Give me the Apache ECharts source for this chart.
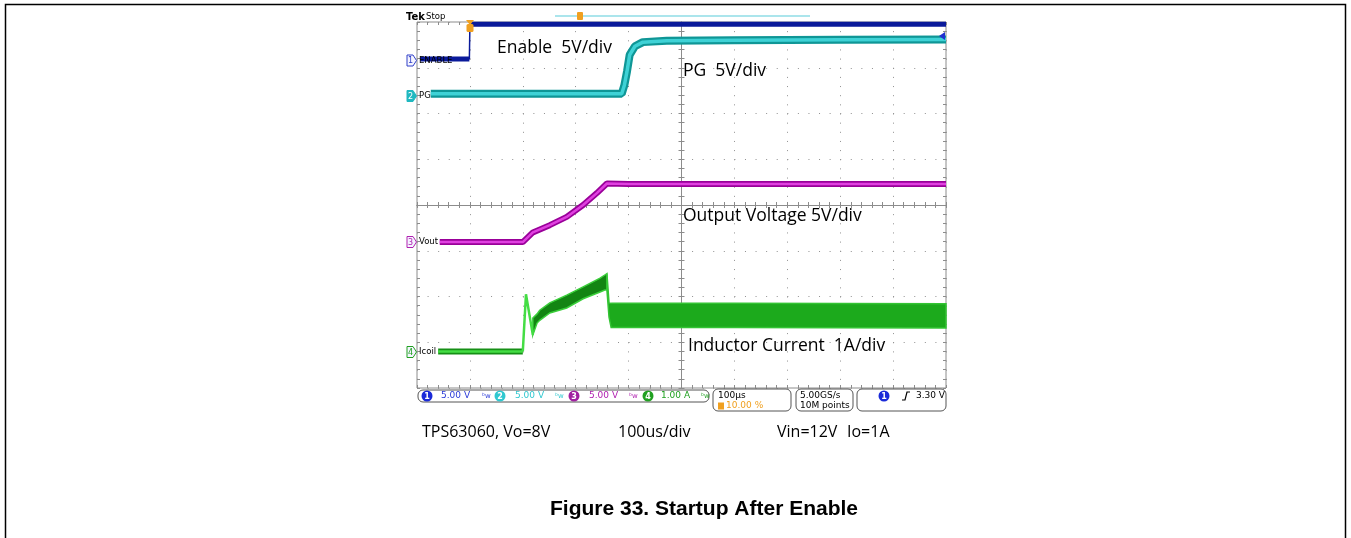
<!DOCTYPE html>
<html>
<head>
<meta charset="utf-8">
<script src="https://cdn.jsdelivr.net/npm/echarts@6/dist/echarts.min.js"></script>
<style>
html,body{margin:0;padding:0;background:#fff;}
#scope{width:1351px;height:538px;}
</style>
</head>
<body>
<div id="scope"></div>
<script type="text/javascript">
// time in us from the trigger, level in scope divisions from screen centre
var enableTime = [-94, -1, 0, 900];
var enableDiv  = [3.19, 3.19, 3.95, 3.95];

var pgTime = [-74, 287, 292, 297, 302, 312, 327, 372, 500, 700, 900];
var pgDiv  = [2.43, 2.43, 2.62, 2.92, 3.28, 3.47, 3.56, 3.59, 3.60, 3.61, 3.62];

var voutTime = [-57, 100, 119, 151, 183, 214, 240, 259, 300, 600, 900];
var voutDiv  = [-0.81, -0.81, -0.60, -0.44, -0.26, 0.0, 0.26, 0.47, 0.46, 0.46, 0.46];

var icoilTime = [-60, 100];
var icoilDiv  = [-3.20, -3.20];
var spikeTime = [100, 106, 108, 119];
var spikeDiv  = [-3.20, -1.95, -1.93, -2.84];
// switching ripple envelope of the coil current (index 8 = end of soft start)
var bandTime   = [119, 127, 132, 151, 183, 214, 246, 255, 259, 263, 267, 500, 900];
var bandTop    = [-2.47, -2.38, -2.30, -2.14, -1.97, -1.79, -1.60, -1.53, -1.50, -2.14, -2.15, -2.15, -2.16];
var bandBottom = [-2.84, -2.58, -2.52, -2.36, -2.25, -2.05, -1.90, -1.86, -1.86, -2.45, -2.68, -2.68, -2.69];
var bandSplit = 8;

var timeMin = -100, timeMax = 900, timeDiv = 100;

function zip(xs, ys) {
    var out = [];
    for (var i = 0; i < xs.length; i++) out.push([xs[i], ys[i]]);
    return out;
}

function trace(pts, color, width, z) {
    return {type: 'line', data: pts, symbol: 'none', silent: true, animation: false,
        lineStyle: {color: color, width: width}, z: z || 3};
}

function txt(x, y, s, color, font, align) {
    return {type: 'text', x: x, y: y, z: 100, silent: true,
        style: {text: s, fill: color, font: font, align: align || 'left', verticalAlign: 'middle',
            textAlign: align || 'left', textVerticalAlign: 'middle'}};
}

function chMarker(y, n, color, filled) {
    return [
        {type: 'polygon', z: 100, shape: {points: [[407, y - 5.5], [413, y - 5.5], [416.5, y], [413, y + 5.5], [407, y + 5.5]]},
            style: {fill: filled ? color : '#f4f4ff', stroke: color, lineWidth: 1}},
        txt(410.5, y + 0.5, n, filled ? '#fff' : color, '8px "DejaVu Sans"', 'center')
    ];
}

function chip(cx, n, color) {
    return [
        {type: 'circle', z: 100, shape: {cx: cx, cy: 396, r: 5.5}, style: {fill: color}},
        txt(cx, 396.5, n, '#fff', 'bold 8px "DejaVu Sans"', 'center')
    ];
}

var gridGrey = '#8c8c8c';
var mono = '9px "DejaVu Sans"';
var note = '17.5px "Open Sans"';
var foot = '16px "Open Sans"';

var graphics = [
    {type: 'rect', z: 0, shape: {x: 5.5, y: 4.5, width: 1340, height: 600}, style: {fill: 'none', stroke: '#000', lineWidth: 1.5}},
    txt(406, 17, 'Tek', '#000', 'bold 10px "DejaVu Sans"'),
    txt(426, 17, 'Stop', '#000', '8.5px "DejaVu Sans"'),
    {type: 'line', z: 100, shape: {x1: 555, y1: 16, x2: 810, y2: 16}, style: {stroke: '#8fdde6', lineWidth: 1.5}},
    {type: 'rect', z: 100, shape: {x: 577, y: 12, width: 6, height: 8, r: 1}, style: {fill: '#f0a020'}},
    {type: 'polygon', z: 100, shape: {points: [[466, 20], [474, 20], [470, 25]]}, style: {fill: '#f0a020'}},
    {type: 'rect', z: 100, shape: {x: 466.5, y: 24, width: 7, height: 8, r: 1.5}, style: {fill: '#f0a020'}},
    {type: 'polygon', z: 100, shape: {points: [[945, 32], [945, 40], [939, 36]]}, style: {fill: '#2030d0'}},
    txt(419, 60.5, 'ENABLE', '#000', '8.5px "DejaVu Sans"'),
    txt(419, 96, 'PG', '#000', '8.5px "DejaVu Sans"'),
    txt(419, 242, 'Vout', '#000', '8.5px "DejaVu Sans"'),
    txt(419, 352, 'Icoil', '#000', '8.5px "DejaVu Sans"'),

    txt(497, 48, 'Enable  5V/div', '#000', note),
    txt(683, 71, 'PG  5V/div', '#000', note),
    txt(683, 216, 'Output Voltage 5V/div', '#000', note),
    txt(688, 346, 'Inductor Current  1A/div', '#000', note),

    // status bar
    {type: 'rect', z: 100, shape: {x: 418, y: 390, width: 291, height: 12, r: 5}, style: {fill: '#fff', stroke: '#555', lineWidth: 1}},
    txt(441, 396, '5.00 V', '#2a3ad8', mono),
    txt(482, 396, 'ᵇw', '#2a3ad8', '7px "DejaVu Sans"'),
    txt(515, 396, '5.00 V', '#30c8d0', mono),
    txt(555, 396, 'ᵇw', '#30c8d0', '7px "DejaVu Sans"'),
    txt(589, 396, '5.00 V', '#b020b0', mono),
    txt(629, 396, 'ᵇw', '#b020b0', '7px "DejaVu Sans"'),
    txt(661, 396, '1.00 A', '#20a020', mono),
    txt(701, 396, 'ᵇw', '#20a020', '7px "DejaVu Sans"'),
    {type: 'rect', z: 100, shape: {x: 713, y: 389, width: 78, height: 22, r: 5}, style: {fill: '#fff', stroke: '#555', lineWidth: 1}},
    txt(718, 395.5, '100µs', '#000', mono),
    {type: 'rect', z: 100, shape: {x: 718, y: 402.5, width: 6, height: 7}, style: {fill: '#f0a020'}},
    txt(726, 406, '10.00 %', '#f0a020', mono),
    {type: 'rect', z: 100, shape: {x: 796, y: 389, width: 57, height: 22, r: 5}, style: {fill: '#fff', stroke: '#555', lineWidth: 1}},
    txt(800, 395.5, '5.00GS/s', '#000', mono),
    txt(800, 406, '10M points', '#000', mono),
    {type: 'rect', z: 100, shape: {x: 857, y: 389, width: 89, height: 22, r: 5}, style: {fill: '#fff', stroke: '#555', lineWidth: 1}},
    {type: 'polyline', z: 100, shape: {points: [[902, 400], [905, 400], [907, 392], [910, 392]]}, style: {stroke: '#000', lineWidth: 1.2, fill: 'none'}},
    txt(945, 396, '3.30 V', '#000', mono, 'right'),

    txt(422, 432, 'TPS63060, Vo=8V', '#000', foot),
    txt(618, 432, '100us/div', '#000', foot),
    txt(777, 432, 'Vin=12V', '#000', foot),
    txt(847, 432, 'Io=1A', '#000', foot),
    txt(704, 509, 'Figure 33. Startup After Enable', '#000', 'bold 21px "Liberation Sans"', 'center')
];
graphics = graphics.concat(chMarker(60.5, '1', '#3040c8', false), chMarker(96, '2', '#20b8c0', true),
    chMarker(242, '3', '#b020b0', false), chMarker(352, '4', '#20a020', false),
    chip(427, '1', '#1a2ad8'), chip(500, '2', '#30c8d0'), chip(574, '3', '#a020a0'), chip(648, '4', '#20a020'),
    chip(884, '1', '#1a2ad8'));

function edgeAxis(min, max, interval, position, zeroIdx) {
    var ax = {type: 'value', min: min, max: max, interval: interval, position: position,
        axisLabel: {show: false}, splitLine: {show: false},
        axisLine: {show: zeroIdx != null, onZero: zeroIdx != null, onZeroAxisIndex: zeroIdx,
            lineStyle: {color: gridGrey, width: 1}},
        axisTick: {show: true, inside: zeroIdx == null, length: 3, lineStyle: {color: gridGrey}},
        minorTick: {show: true, splitNumber: 5, length: 3, lineStyle: {color: gridGrey}}};
    return ax;
}

var xMain = edgeAxis(timeMin, timeMax, timeDiv, 'bottom', 0);
xMain.splitLine = {show: true, lineStyle: {color: '#909090', width: 1, type: [1, 8.15]}};
var yMain = {type: 'value', min: -4, max: 4, interval: 1, position: 'left',
    axisLabel: {show: false}, axisLine: {show: false}, axisTick: {show: false},
    splitLine: {show: true, lineStyle: {color: '#909090', width: 1, type: [1, 9.58]}}};
var xCentre = {type: 'value', min: -500, max: 500, show: false};

function bandPart(api, from, to, fill, stroke) {
    var pts = [];
    for (var i = from; i <= to; i++) pts.push(api.coord([bandTime[i], bandTop[i]]));
    for (var j = to; j >= from; j--) pts.push(api.coord([bandTime[j], bandBottom[j]]));
    return {type: 'polygon', shape: {points: pts}, style: {fill: fill, stroke: stroke, lineWidth: 1.5}};
}

var option = {
    animation: false,
    backgroundColor: '#fff',
    grid: {left: 417, top: 22, width: 529, height: 366, show: true, borderColor: gridGrey, borderWidth: 1, backgroundColor: '#fff'},
    xAxis: [
        xMain,
        edgeAxis(timeMin, timeMax, timeDiv, 'top', 0),
        xCentre,
        edgeAxis(timeMin, timeMax, timeDiv, 'bottom', null),
        edgeAxis(timeMin, timeMax, timeDiv, 'top', null)
    ],
    yAxis: [
        yMain,
        edgeAxis(-4, 4, 1, 'left', 2),
        edgeAxis(-4, 4, 1, 'right', 2),
        edgeAxis(-4, 4, 1, 'left', null),
        edgeAxis(-4, 4, 1, 'right', null)
    ],
    graphic: graphics,
    series: [
        {
            type: 'custom', z: 2, silent: true, animation: false,
            data: [[bandTime[0], bandTop[0]]],
            renderItem: function (params, api) {
                return {type: 'group', children: [
                    bandPart(api, bandSplit, bandTime.length - 1, '#1caa1c', '#33c433'),
                    bandPart(api, 0, bandSplit, '#138513', '#3bcf3b')
                ]};
            }
        },
        trace(zip(icoilTime, icoilDiv), '#168f16', 6),
        trace(zip(icoilTime, icoilDiv), '#44dd44', 2.5),
        trace(zip(spikeTime, spikeDiv), '#44dd44', 2.5),
        trace(zip(voutTime, voutDiv), '#990099', 6),
        trace(zip(voutTime, voutDiv), '#e040e0', 2.5),
        trace(zip(pgTime, pgDiv), '#0f9696', 8),
        trace(zip(pgTime, pgDiv), '#3fd2d6', 3.5),
        trace(zip(enableTime, enableDiv), '#0a1a9a', 1.5),
        trace(zip(enableTime, enableDiv).slice(0, 2), '#0a1a9a', 5),
        trace(zip(enableTime, enableDiv).slice(2), '#0a1a9a', 5)
    ]
};
var scopeChart = echarts.init(document.getElementById('scope'));
scopeChart.setOption(option);
</script>
</body>
</html>
